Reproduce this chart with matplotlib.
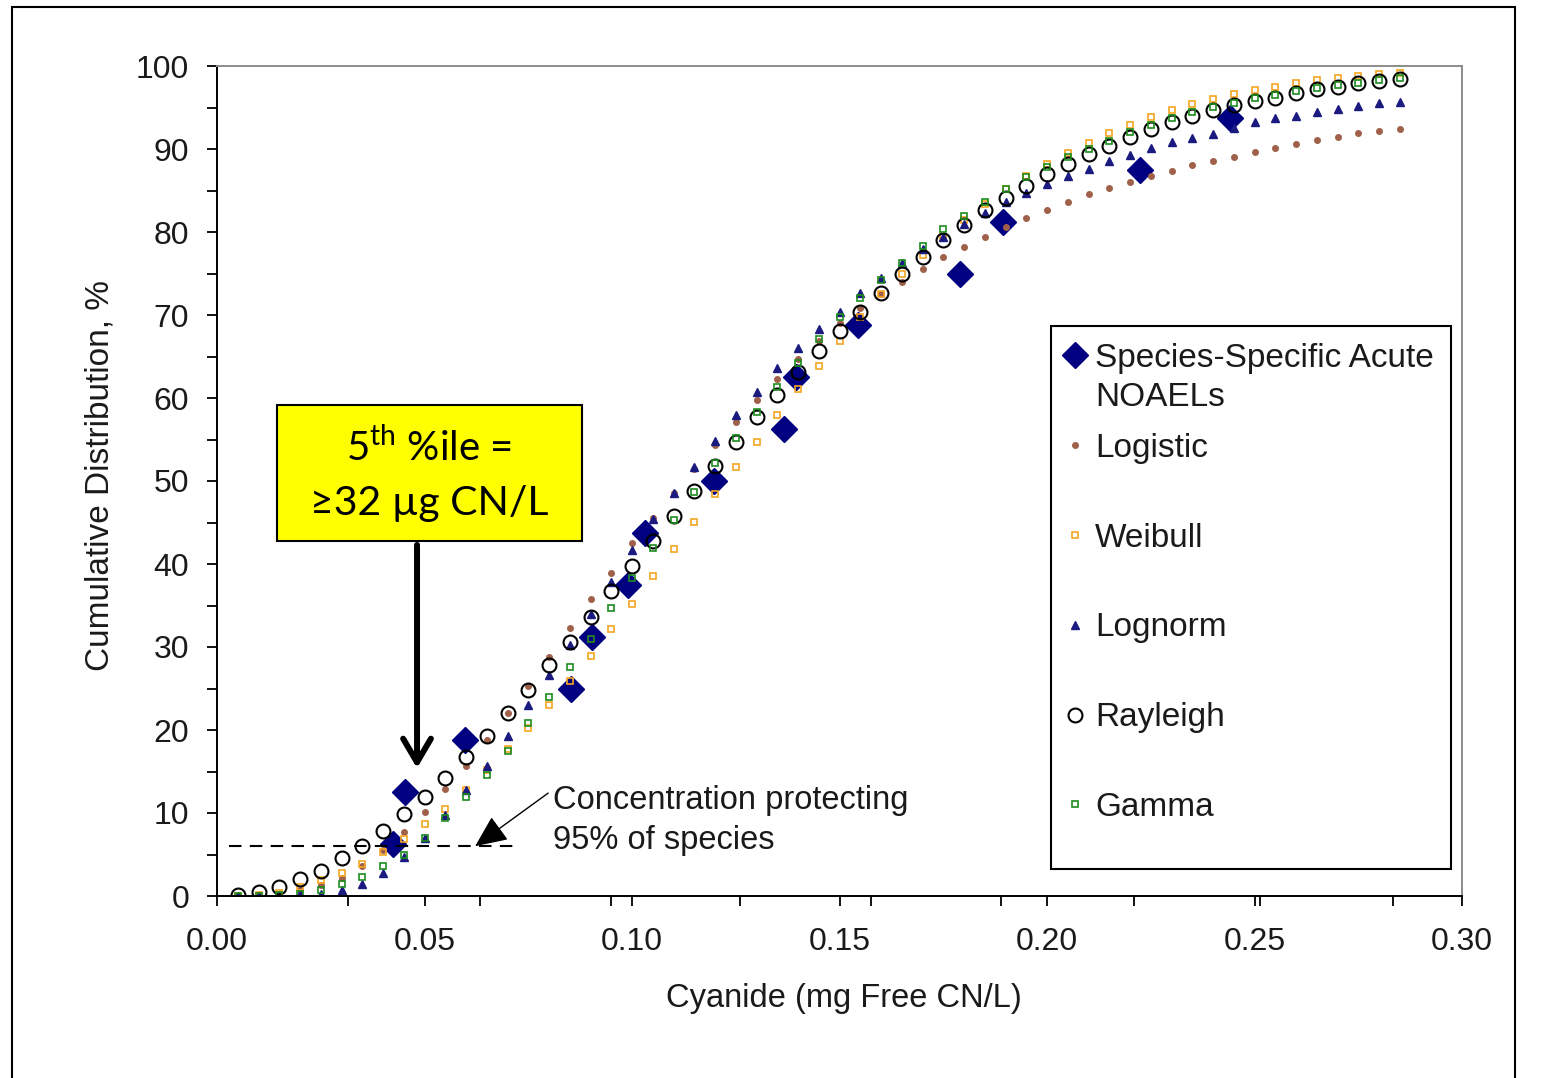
import matplotlib
matplotlib.use("Agg")
import matplotlib.pyplot as plt
from matplotlib.patches import Rectangle

plt.rcParams['font.family'] = ['Liberation Sans', 'DejaVu Sans']
plt.rcParams['mathtext.fontset'] = 'custom'
plt.rcParams['mathtext.rm'] = 'Lato'

# fitted curves are evaluated every 0.005 mg/L
x_fit = [0.005, 0.010, 0.015, 0.020, 0.025, 0.030, 0.035, 0.040, 0.045, 0.050,
         0.055, 0.060, 0.065, 0.070, 0.075, 0.080, 0.085, 0.090, 0.095, 0.100,
         0.105, 0.110, 0.115, 0.120, 0.125, 0.130, 0.135, 0.140, 0.145, 0.150,
         0.155, 0.160, 0.165, 0.170, 0.175, 0.180, 0.185, 0.190, 0.195, 0.200,
         0.205, 0.210, 0.215, 0.220, 0.225, 0.230, 0.235, 0.240, 0.245, 0.250,
         0.255, 0.260, 0.265, 0.270, 0.275, 0.280, 0.285]

logistic = [0.0, 0.1, 0.3, 0.7, 1.3, 2.2, 3.6, 5.5, 7.7, 10.1,
            12.9, 15.7, 18.8, 22.0, 25.3, 28.8, 32.3, 35.8, 38.9, 42.5,
            45.5, 48.5, 51.4, 54.3, 57.1, 59.8, 62.3, 64.7, 66.9, 69.0,
            70.9, 72.5, 74.0, 75.5, 77.0, 78.2, 79.4, 80.6, 81.7, 82.6,
            83.6, 84.6, 85.3, 86.0, 86.7, 87.3, 88.1, 88.6, 89.0, 89.6,
            90.1, 90.6, 91.1, 91.4, 91.9, 92.2, 92.4]

weibull = [0.0, 0.1, 0.4, 1.1, 1.9, 2.8, 3.8, 5.3, 6.9, 8.7,
           10.5, 12.8, 15.2, 17.7, 20.2, 23.0, 25.9, 28.9, 32.2, 35.2,
           38.5, 41.8, 45.1, 48.4, 51.7, 54.7, 58.0, 61.1, 63.9, 66.9,
           69.8, 72.5, 74.9, 77.2, 79.4, 81.5, 83.4, 85.2, 86.8, 88.2,
           89.5, 90.7, 91.9, 92.9, 93.9, 94.7, 95.4, 96.0, 96.6, 97.1,
           97.5, 98.0, 98.3, 98.6, 98.8, 99.0, 99.2]

lognorm = [0.0, 0.0, 0.0, 0.2, 0.3, 0.7, 1.5, 2.8, 4.7, 7.0,
           9.8, 12.8, 15.7, 19.3, 23.0, 26.6, 30.3, 34.0, 37.8, 41.7,
           45.4, 48.6, 51.7, 54.8, 58.0, 60.7, 63.6, 66.0, 68.3, 70.4,
           72.6, 74.5, 76.3, 77.9, 79.4, 81.0, 82.3, 83.6, 84.7, 85.8,
           86.8, 87.6, 88.6, 89.3, 90.1, 90.8, 91.3, 91.8, 92.5, 93.2,
           93.7, 94.0, 94.5, 94.8, 95.2, 95.5, 95.7]

rayleigh = [0.1, 0.5, 1.1, 2.0, 3.0, 4.6, 6.0, 7.8, 9.9, 11.9,
            14.2, 16.7, 19.3, 22.0, 24.8, 27.8, 30.6, 33.6, 36.7, 39.7,
            42.8, 45.8, 48.8, 51.8, 54.7, 57.7, 60.4, 63.1, 65.7, 68.1,
            70.4, 72.7, 74.9, 77.0, 79.0, 80.8, 82.6, 84.1, 85.6, 87.0,
            88.2, 89.4, 90.4, 91.4, 92.4, 93.2, 94.0, 94.7, 95.3, 95.8,
            96.2, 96.7, 97.2, 97.5, 97.9, 98.2, 98.4]

gamma = [0.0, 0.0, 0.1, 0.3, 0.7, 1.4, 2.3, 3.6, 5.0, 7.0,
         9.4, 11.9, 14.6, 17.5, 20.9, 24.0, 27.6, 31.0, 34.7, 38.3,
         41.9, 45.3, 48.7, 52.2, 55.2, 58.3, 61.3, 64.2, 67.1, 69.8,
         72.0, 74.2, 76.3, 78.3, 80.4, 81.9, 83.6, 85.2, 86.6, 87.8,
         89.0, 90.0, 91.0, 92.0, 92.9, 93.7, 94.4, 95.1, 95.6, 96.1,
         96.5, 97.0, 97.4, 97.7, 98.0, 98.3, 98.5]

# species-specific acute NOAELs (mg free CN/L) and their ranks
noael_x = [0.0424, 0.0453, 0.0598, 0.0853, 0.0904, 0.0990, 0.1031, 0.1198,
           0.1366, 0.1395, 0.1545, 0.1790, 0.1894, 0.2224, 0.2441]
noael_y = [6.25, 12.5, 18.75, 25.0, 31.25, 37.5, 43.75, 50.0,
           56.25, 62.5, 68.75, 75.0, 81.25, 87.5, 93.75]

x_major = [0.00, 0.05, 0.10, 0.15, 0.20, 0.25, 0.30]
x_extra = [0.0316, 0.0634, 0.095, 0.126, 0.1577, 0.189, 0.221, 0.2513, 0.2834]

protect_level = 6.0
protect_span = [0.003, 0.072]

fig = plt.figure(figsize=(15.43, 10.78), dpi=100)
ax = fig.add_axes([217 / 1543, 182 / 1078, 1245 / 1543, 830 / 1078])

ax.plot(noael_x, noael_y, ls='none', marker='D', ms=13.5, color='#000080',
        label='Species-Specific Acute')
ax.plot(x_fit, logistic, ls='none', marker='o', ms=4, color='#A0604A', mec='#A0604A',
        label='Logistic')
ax.plot(x_fit, weibull, ls='none', marker='s', ms=5, mfc='none', mec='#F5A623', mew=1.2,
        label='Weibull')
ax.plot(x_fit, lognorm, ls='none', marker='^', ms=5.5, color='#1A1A80', label='Lognorm')
ax.plot(x_fit, rayleigh, ls='none', marker='o', ms=10, mfc='none', mec='black', mew=1.5,
        label='Rayleigh')
ax.plot(x_fit, gamma, ls='none', marker='s', ms=5, mfc='none', mec='#1E8C1E', mew=1.2,
        label='Gamma')

ax.set_xlim(0, 0.30)
ax.set_ylim(0, 100)
ax.set_xticks(x_major)
ax.set_xticklabels(['%.2f' % v for v in x_major])
ax.set_xticks(x_extra, minor=True)
ax.set_yticks(range(0, 101, 10))
ax.set_yticks(range(5, 100, 10), minor=True)
ax.tick_params(axis='both', which='both', direction='out', length=7, width=1.3,
               labelsize=23, labelcolor='#1a1a1a')
ax.tick_params(axis='x', which='both', pad=15)
ax.tick_params(axis='y', which='both', pad=13)

for s in ['left', 'bottom']:
    ax.spines[s].set_color('black')
    ax.spines[s].set_linewidth(1.4)
for s in ['top', 'right']:
    ax.spines[s].set_color('#8c8c8c')
    ax.spines[s].set_linewidth(1.4)

ax.set_xlabel('Cyanide (mg Free CN/L)', fontsize=23.5, color='#1a1a1a')
ax.set_ylabel('Cumulative Distribution, %', fontsize=24, color='#1a1a1a')
ax.xaxis.set_label_coords(0.5035, -0.123)
ax.xaxis.label.set_verticalalignment('center')
ax.yaxis.set_label_coords(-0.094, 0.507)
ax.yaxis.label.set_verticalalignment('center')

# 95% protection line and note
ax.plot(protect_span, [protect_level, protect_level], color='black', lw=1.5,
        dashes=(6, 4))
ax.annotate('', xy=(0.0622, protect_level), xytext=(0.0798, 12.4),
            arrowprops=dict(arrowstyle='-|>,head_length=1.0,head_width=0.45',
                            mutation_scale=20, color='black', lw=1.0,
                            shrinkA=0, shrinkB=0))
ax.text(0.0810, 9.1, 'Concentration protecting\n95% of species', fontsize=23.5,
        ha='left', va='center', linespacing=1.37, color='#1a1a1a')

# yellow call-out box with the 5th percentile
ax.add_patch(Rectangle((0.01446, 42.77), 0.07349, 16.39, facecolor='#FFFF00',
                       edgecolor='black', lw=1.5, zorder=6))
ax.text(0.0512, 54.0, r'5$^{\mathrm{th}}$ %ile =', fontsize=29, ha='center', va='center',
        family=['Lato', 'DejaVu Sans'], zorder=7)
ax.text(0.0512, 47.3, '≥32 µg CN/L', fontsize=29.5, ha='center', va='center',
        family=['Lato', 'DejaVu Sans'], zorder=7)
ax.annotate('', xy=(0.0482, 15.4), xytext=(0.0482, 42.3),
            arrowprops=dict(arrowstyle='->,head_length=0.85,head_width=0.5',
                            mutation_scale=20, color='black', lw=4.3,
                            shrinkA=0, shrinkB=0))

# legend
ax.add_patch(Rectangle((0.6699, 0.0325), 0.3213, 0.6542, transform=ax.transAxes,
                       facecolor='white', edgecolor='black', lw=1.5, zorder=4))
leg = ax.legend(loc='upper left', bbox_to_anchor=(0.6811, 0.6663), frameon=False,
                borderpad=0, borderaxespad=0, fontsize=24, handlelength=0.6,
                handletextpad=0.3, labelspacing=1.765, numpoints=1)
for t in leg.get_texts():
    t.set_color('#1a1a1a')
ax.annotate('NOAELs', xy=(0, 0.5), xycoords=leg.get_texts()[0], xytext=(0, -39),
            textcoords='offset pixels', ha='left', va='center', fontsize=24,
            color='#1a1a1a', zorder=6)

# outer border of the picture
fig.patches.append(Rectangle((12 / 1543, -0.01), 1503 / 1543, 1.01 - 7 / 1078,
                             transform=fig.transFigure, fill=False, edgecolor='black',
                             lw=1.5))

fig.savefig('out.png', dpi=100)
